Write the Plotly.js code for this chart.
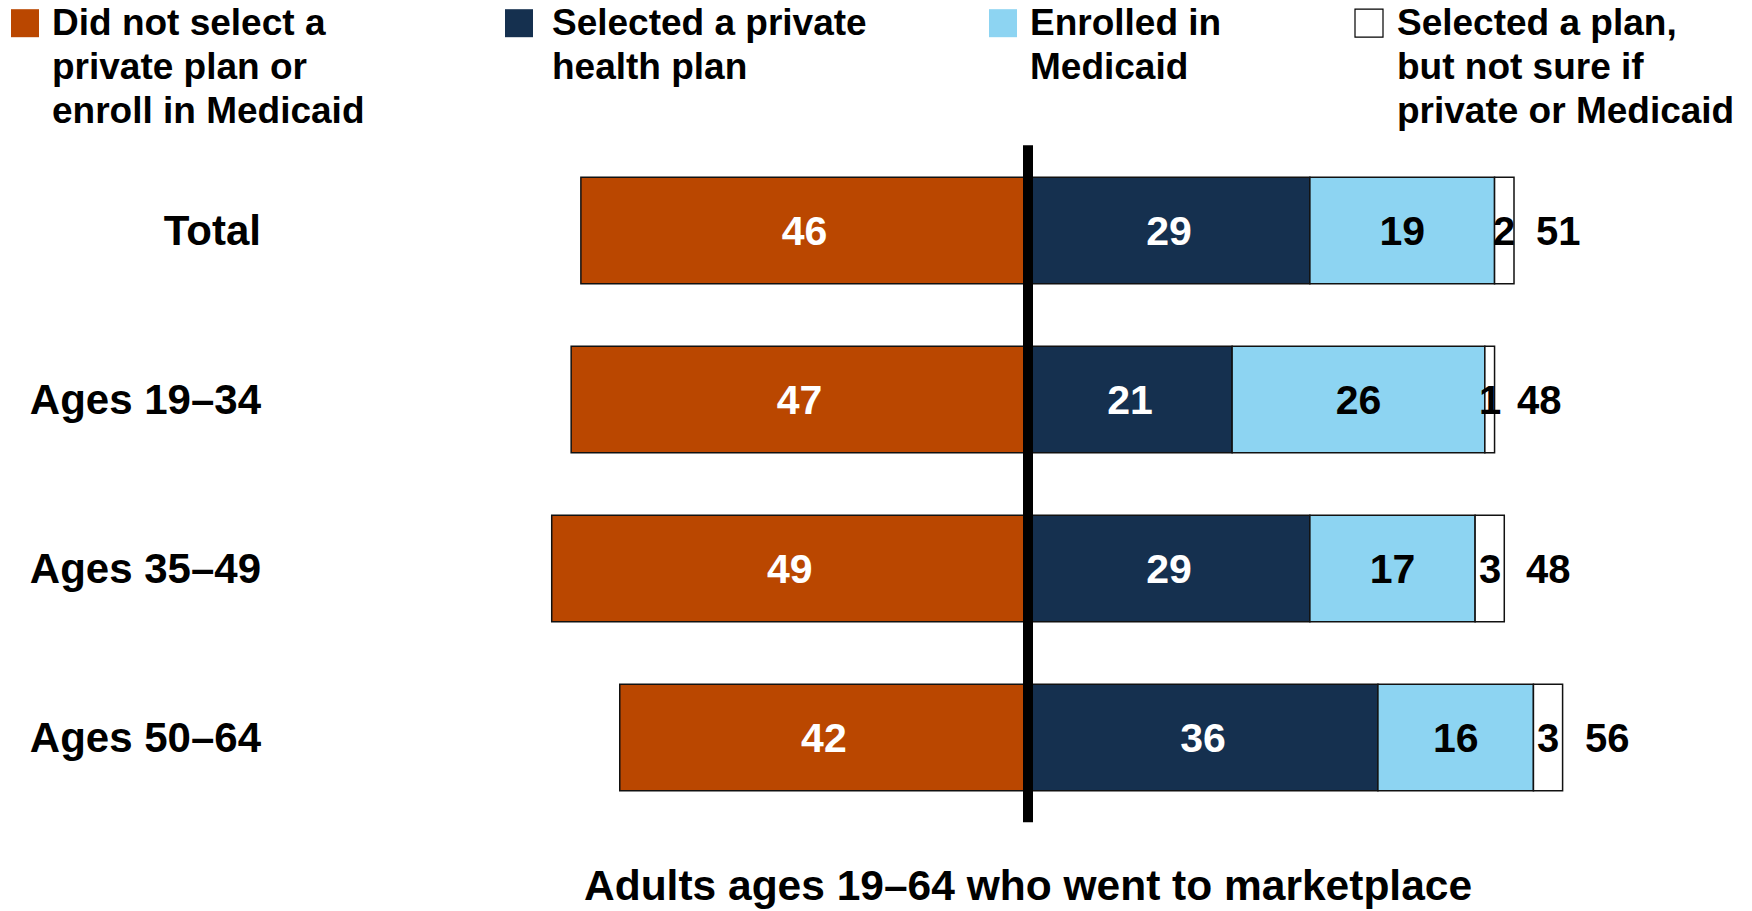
<!DOCTYPE html>
<html>
<head>
<meta charset="utf-8">
<script src="https://cdn.plot.ly/plotly-3.0.1.min.js"></script>
<style>html,body{margin:0;padding:0;background:#fff;}#chart{width:1752px;height:911px;}</style>
</head>
<body>
<div id="chart"></div>
<script>
// ---- Data ----
const categories = ['Total', 'Ages 19–34', 'Ages 35–49', 'Ages 50–64'];
const notSelected = [46, 47, 49, 42];
const privatePlan = [29, 21, 29, 36];
const medicaid = [19, 26, 17, 16];
const notSure = [2, 1, 3, 3];
const totalSelected = [51, 48, 48, 56];
const seriesNames = [
  'Did not select a private plan or enroll in Medicaid',
  'Selected a private health plan',
  'Enrolled in Medicaid',
  'Selected a plan, but not sure if private or Medicaid'
];
const legendLines = [
  ['Did not select a', 'private plan or', 'enroll in Medicaid'],
  ['Selected a private', 'health plan'],
  ['Enrolled in', 'Medicaid'],
  ['Selected a plan,', 'but not sure if', 'private or Medicaid']
];
const xTitle = 'Adults ages 19–64 who went to marketplace';

// ---- Styles / layout constants ----
const W = 1752, H = 911;
const ML = 266, MR = 40, MT = 145.8, MB = 89.2;
const PW = W - ML - MR, PH = H - MT - MB;
const ZERO_PX = 1028, PX_PER_UNIT = 9.72;
const xMin = (ML - ZERO_PX) / PX_PER_UNIT;
const xMax = (W - MR - ZERO_PX) / PX_PER_UNIT;
const colors = ['#BA4700', '#15304F', '#8DD4F2', '#FFFFFF'];
const FONT = 'Liberation Sans, Arial, Helvetica, sans-serif';
const px2x = p => (p - ML) / PW;
const px2y = p => 1 - (p - MT) / PH;
const outline = {color: '#111111', width: 1.5};

const traces = [
  {
    type: 'bar', orientation: 'h', name: seriesNames[0], y: categories,
    x: notSelected.map(v => -v), text: notSelected.map(String),
    marker: {color: colors[0], line: outline},
    textposition: 'inside', insidetextanchor: 'middle', constraintext: 'none',
    textfont: {family: FONT, size: 41, color: '#FFFFFF', weight: 'bold'},
    showlegend: false, hoverinfo: 'name+text'
  },
  {
    type: 'bar', orientation: 'h', name: seriesNames[1], y: categories,
    x: privatePlan, text: privatePlan.map(String),
    marker: {color: colors[1], line: outline},
    textposition: 'inside', insidetextanchor: 'middle', constraintext: 'none',
    textfont: {family: FONT, size: 41, color: '#FFFFFF', weight: 'bold'},
    showlegend: false, hoverinfo: 'name+text'
  },
  {
    type: 'bar', orientation: 'h', name: seriesNames[2], y: categories,
    x: medicaid, text: medicaid.map(String),
    marker: {color: colors[2], line: outline},
    textposition: 'inside', insidetextanchor: 'middle', constraintext: 'none',
    textfont: {family: FONT, size: 41, color: '#000000', weight: 'bold'},
    showlegend: false, hoverinfo: 'name+text'
  },
  {
    type: 'bar', orientation: 'h', name: seriesNames[3], y: categories,
    x: notSure, textposition: 'none',
    marker: {color: colors[3], line: outline},
    showlegend: false, hoverinfo: 'name+x'
  }
];

const annotations = [];
const shapes = [];

// labels for the narrow "not sure" segments and the selected totals
categories.forEach((c, i) => {
  annotations.push({
    x: privatePlan[i] + medicaid[i] + notSure[i] / 2, y: c, xref: 'x', yref: 'y',
    text: String(notSure[i]), showarrow: false, xanchor: 'center', yanchor: 'middle',
    font: {family: FONT, size: 40, color: '#000', weight: 'bold'}
  });
  annotations.push({
    x: privatePlan[i] + medicaid[i] + notSure[i], y: c, xref: 'x', yref: 'y',
    text: String(totalSelected[i]), showarrow: false, xanchor: 'left', yanchor: 'middle',
    xshift: 20,
    font: {family: FONT, size: 40, color: '#000', weight: 'bold'}
  });
});

// x title centered on zero line
annotations.push({
  x: 0, y: px2y(885), xref: 'x', yref: 'paper', text: xTitle, showarrow: false,
  xanchor: 'center', yanchor: 'middle',
  font: {family: FONT, size: 42.5, color: '#000', weight: 'bold'}
});

// custom legend
const swatchX = [11, 505, 989, 1355];
const textX = [50, 550, 1028, 1395];
const lineY = [22, 66, 110];
legendLines.forEach((lines, k) => {
  shapes.push({
    type: 'rect', xref: 'paper', yref: 'paper',
    x0: px2x(swatchX[k]), x1: px2x(swatchX[k] + 28),
    y0: px2y(9), y1: px2y(37),
    fillcolor: colors[k], line: {color: k === 3 ? '#000' : colors[k], width: k === 3 ? 1.2 : 0}
  });
  lines.forEach((t, j) => {
    annotations.push({
      x: px2x(textX[k]), y: px2y(lineY[j]), xref: 'paper', yref: 'paper',
      text: t, showarrow: false, xanchor: 'left', yanchor: 'middle',
      font: {family: FONT, size: 37, color: '#000', weight: 'bold'}
    });
  });
});

// vertical zero line above bars
shapes.push({
  type: 'line', xref: 'x', yref: 'paper', x0: 0, x1: 0, y0: px2y(822), y1: px2y(145),
  line: {color: '#000', width: 10}, layer: 'above'
});

const layout = {
  width: W, height: H,
  margin: {l: ML, r: MR, t: MT, b: MB, pad: 0},
  paper_bgcolor: '#FFFFFF', plot_bgcolor: '#FFFFFF',
  barmode: 'relative', bargap: 0.37,
  showlegend: false,
  xaxis: {
    range: [xMin, xMax], showgrid: false, zeroline: false, showline: false,
    showticklabels: false, ticks: '', fixedrange: true
  },
  yaxis: {
    type: 'category', range: [3.5, -0.5], showgrid: false, zeroline: false,
    showline: false, ticks: '', automargin: false,
    tickfont: {family: FONT, size: 42, color: '#000', weight: 'bold'},
    ticklabelstandoff: 4
  },
  annotations: annotations,
  shapes: shapes,
  font: {family: FONT, color: '#000'}
};

Plotly.newPlot('chart', traces, layout, {displayModeBar: false, staticPlot: true});
</script>
</body>
</html>
